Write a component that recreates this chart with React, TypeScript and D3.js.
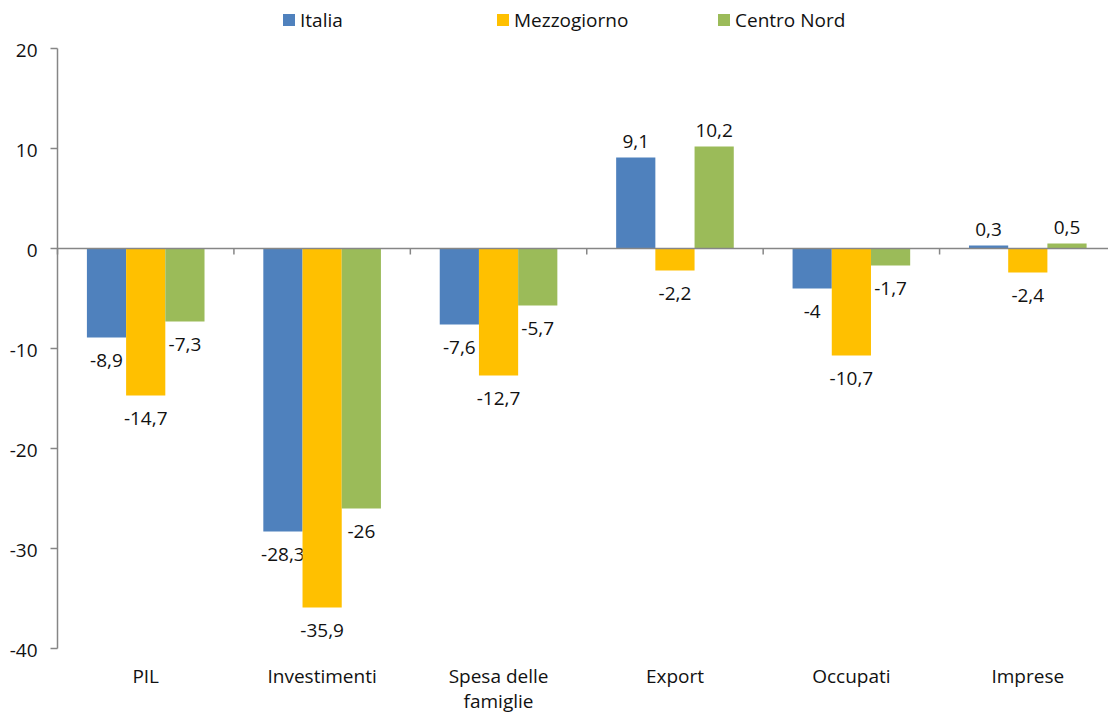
import * as d3 from 'd3';

const categories = ['PIL', 'Investimenti', 'Spesa delle famiglie', 'Export', 'Occupati', 'Imprese'];
const categoryLines = [['PIL'], ['Investimenti'], ['Spesa delle', 'famiglie'], ['Export'], ['Occupati'], ['Imprese']];
const seriesNames = ['Italia', 'Mezzogiorno', 'Centro Nord'];
const italia = [-8.9, -28.3, -7.6, 9.1, -4, 0.3];
const mezzogiorno = [-14.7, -35.9, -12.7, -2.2, -10.7, -2.4];
const centroNord = [-7.3, -26, -5.7, 10.2, -1.7, 0.5];
const yTicks = [20, 10, 0, -10, -20, -30, -40];

const colors = ['#4F81BD', '#FFC000', '#9BBB59'];
const font = "'Open Sans', sans-serif";
const fs = 19;
const ink = '#111';
const W = 1108;
const H = 715;

export default function App() {
  const series = [italia, mezzogiorno, centroNord];

  const x = d3.scaleBand<string>().domain(categories).range([57.5, 1116]).padding(0);
  const bw = x.bandwidth();
  const xs = d3
    .scaleBand<string>()
    .domain(seriesNames)
    .range([bw / 6, (bw * 5) / 6])
    .padding(0);
  const y = d3.scaleLinear().domain([-40, 20]).range([648.5, 48.5]);
  const fmt = (v: number) => String(v).replace('.', ',');

  const legendX = [283, 497, 718];

  return (
    <svg
      width={W}
      height={H}
      style={{ position: 'absolute', left: 0, top: 0, background: '#fff' }}
      fontFamily={font}
    >
      {/* legend */}
      {seriesNames.map((s, i) => (
        <g key={s} transform={`translate(${legendX[i]},0)`}>
          <rect x={0} y={14} width={12} height={12} fill={colors[i]} />
          <text x={17} y={26.5} fontSize={fs} fill={ink}>
            {s}
          </text>
        </g>
      ))}

      {/* y axis */}
      <line x1={57.5} x2={57.5} y1={y(20)} y2={y(-40)} stroke="#868686" strokeWidth={1.5} />
      {yTicks.map(t => (
        <g key={t}>
          <line x1={50.5} x2={57.5} y1={y(t)} y2={y(t)} stroke="#868686" strokeWidth={1.5} />
          <text x={37.5} y={y(t) + 8} fontSize={fs} textAnchor="end" fill={ink}>
            {t}
          </text>
        </g>
      ))}

      {/* bars */}
      {categories.map((c, ci) => (
        <g key={c} transform={`translate(${x(c)},0)`}>
          {series.map((vals, si) => {
            const v = vals[ci];
            const bx = xs(seriesNames[si])!;
            const top = y(Math.max(0, v));
            const h = Math.abs(y(v) - y(0));
            return (
              <g key={si}>
                <rect x={bx} y={top} width={xs.bandwidth()} height={h} fill={colors[si]} />
                <text
                  x={bx + xs.bandwidth() / 2}
                  y={v >= 0 ? y(v) - 10 : y(v) + 29}
                  fontSize={fs}
                  textAnchor="middle"
                  fill={ink}
                >
                  {fmt(v)}
                </text>
              </g>
            );
          })}
        </g>
      ))}

      {/* x axis (zero line) */}
      <line x1={57.5} x2={1116} y1={y(0)} y2={y(0)} stroke="#868686" strokeWidth={1.5} />
      {categories.map(c => (
        <line key={c} x1={x(c)!} x2={x(c)!} y1={y(0)} y2={y(0) + 6} stroke="#868686" strokeWidth={1.5} />
      ))}
      {categories.map((c, i) =>
        categoryLines[i].map((ln, li) => (
          <text
            key={c + li}
            x={x(c)! + bw / 2}
            y={683 + li * 25}
            fontSize={fs}
            textAnchor="middle"
            fill={ink}
          >
            {ln}
          </text>
        ))
      )}
    </svg>
  );
}
